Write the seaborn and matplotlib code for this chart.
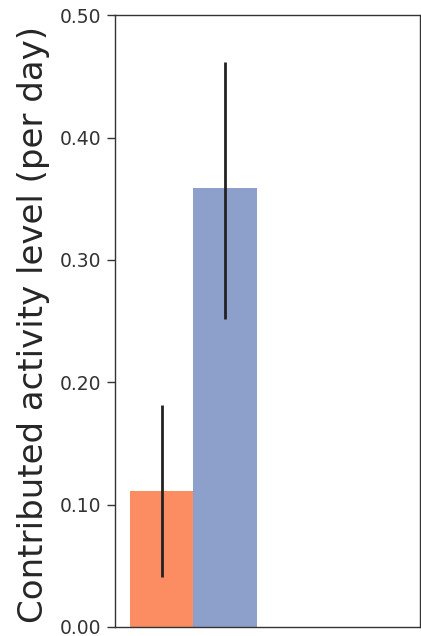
import matplotlib
matplotlib.use("Agg")
import matplotlib.pyplot as plt
import seaborn as sns
import pandas as pd
import numpy as np

# Mean contributed activity per day, one bar per group, with CI bounds
groups = ["A", "B", "C"]
means = [0.111, 0.359, np.nan]
ci_low = [0.041, 0.252, np.nan]
ci_high = [0.181, 0.462, np.nan]
colors = ["#fc8d62", "#8da0cb", "#66c2a5"]
yticks = [0.0, 0.1, 0.2, 0.3, 0.4, 0.5]

sns.set_style("ticks")
plt.rcParams["font.family"] = ["DejaVu Sans"]

df = pd.DataFrame({"cat": ["all"] * len(groups), "group": groups, "value": means})

fig = plt.figure(figsize=(4.21, 6.36), dpi=100)
ax = fig.add_axes([0.273, 0.0142, 0.725, 0.962])
sns.barplot(data=df, x="cat", y="value", hue="group", palette=colors,
            errorbar=None, saturation=1, width=0.8, legend=False, ax=ax,
            linewidth=0)

# error bars centred on each drawn bar
bars = [p for p in ax.patches]
for p, lo, hi, m in zip(bars, ci_low, ci_high, means):
    if np.isnan(m):
        continue
    xc = p.get_x() + p.get_width() / 2
    ax.errorbar([xc], [m], yerr=[[m - lo], [hi - m]], fmt="none",
                ecolor="#222222", elinewidth=2.0, capsize=0)

ax.set_ylim(0, 0.5)
ax.set_xlim(-0.463, 0.821)
ax.set_yticks(yticks)
ax.set_yticklabels([f"{t:.2f}" for t in yticks], fontsize=13.5, color="#333333")
ax.set_xticks([])
ax.set_xlabel("")
ax.set_ylabel("Contributed activity level (per day)", fontsize=24.5)
ax.yaxis.set_label_coords(-0.212, 0.494)
for s in ax.spines.values():
    s.set_color("#333333")
    s.set_linewidth(1.0)
ax.tick_params(axis="y", length=6, width=1, colors="#333333")

fig.savefig("out.png", dpi=100)
